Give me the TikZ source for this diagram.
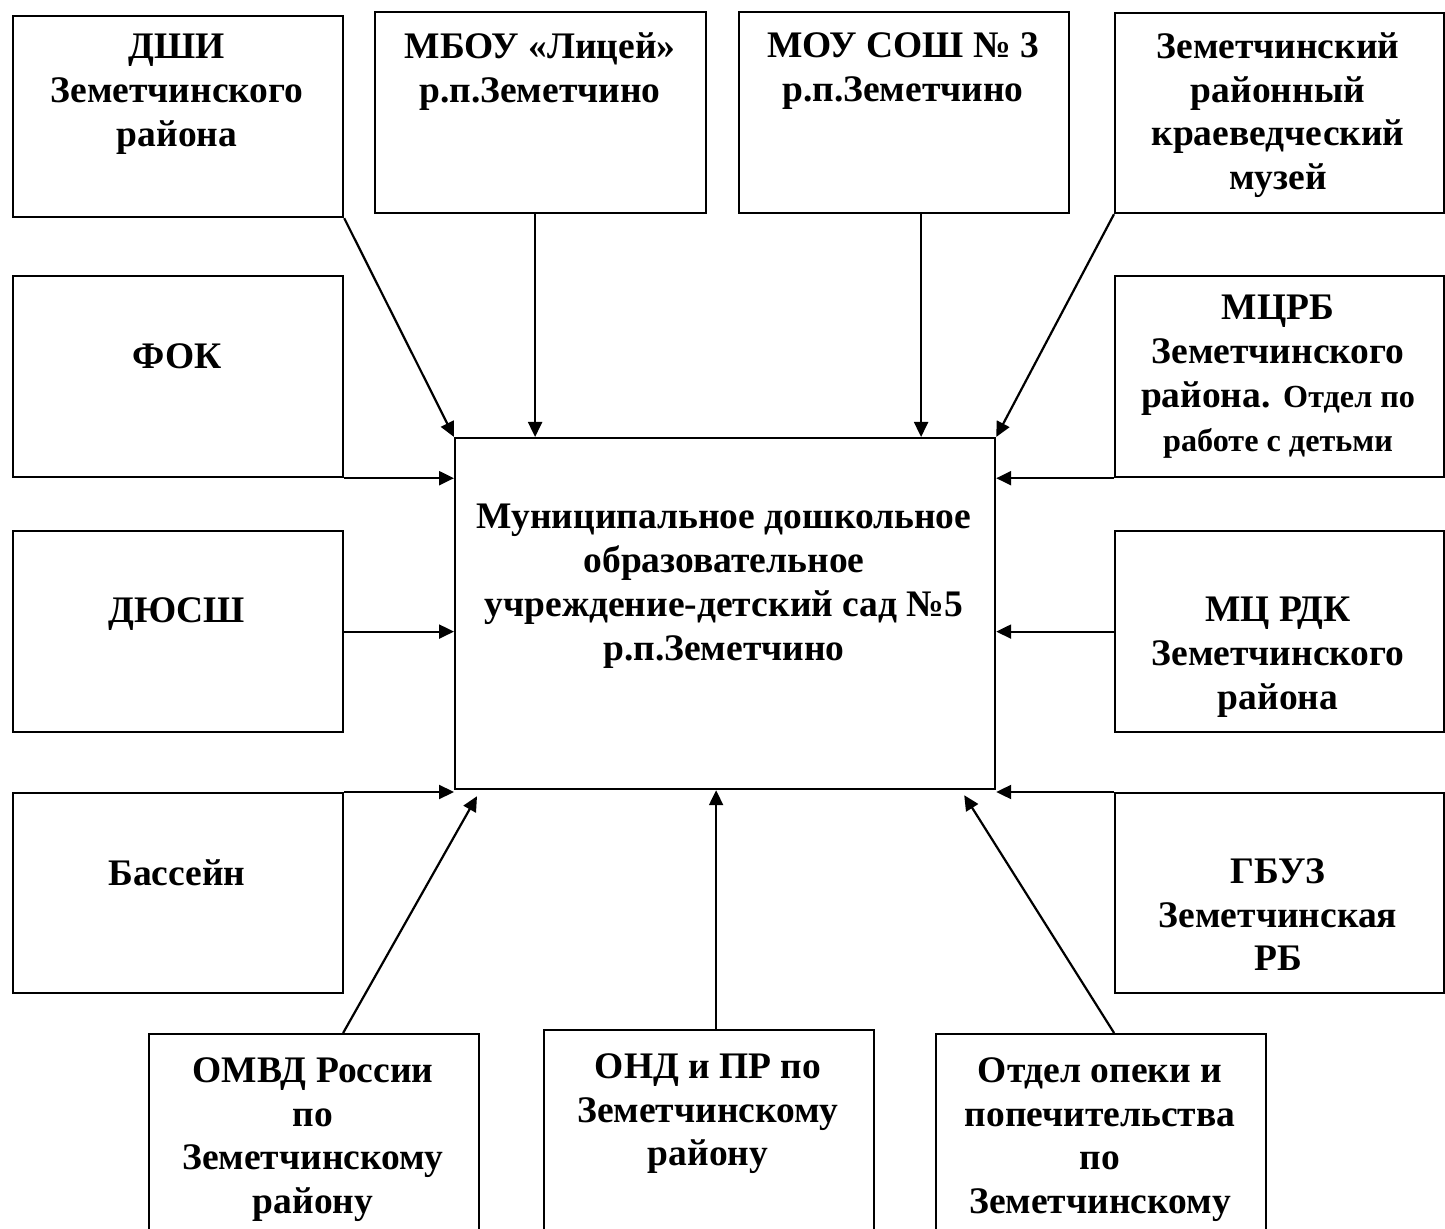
\documentclass[tikz,border=0pt]{standalone}
\usepackage{fontspec}
\setmainfont{Liberation Serif}
\usetikzlibrary{arrows.meta}
\newcommand{\mainsize}{\fontsize{18.75}{21.9}\selectfont}
\newcommand{\smallsz}{\fontsize{16.1}{21.9}\selectfont}
\tikzset{
  box/.style={draw, line width=1.1pt, rectangle, anchor=north west, inner sep=0pt},
  txt/.style={anchor=north, align=center, inner sep=0pt, font=\mainsize\bfseries},
  arr/.style={line width=1.1pt, -{Triangle[length=7.5pt,width=7pt]}}
}
\begin{document}
\begin{tikzpicture}[x=0.5pt,y=-0.5pt]
\useasboundingbox (0,0) rectangle (1445,1229);
\clip (0,0) rectangle (1445,1229);
\fill[white] (0,0) rectangle (1445,1229);
% boxes
\node[box, minimum width=165pt, minimum height=100.5pt] (dshi) at (12,15) {};
\node[box, minimum width=165.5pt, minimum height=100.5pt] (mbou) at (374,11) {};
\node[box, minimum width=165pt, minimum height=100.5pt] (mou) at (738,11) {};
\node[box, minimum width=164.5pt, minimum height=100pt] (muz) at (1114,12) {};
\node[box, minimum width=165pt, minimum height=100.5pt] (fok) at (12,275) {};
\node[box, minimum width=164.5pt, minimum height=100.5pt] (mcrb) at (1114,275) {};
\node[box, minimum width=165pt, minimum height=100.5pt] (dyu) at (12,530) {};
\node[box, minimum width=164.5pt, minimum height=100.5pt] (rdk) at (1114,530) {};
\node[box, minimum width=165pt, minimum height=100pt] (bass) at (12,792) {};
\node[box, minimum width=164.5pt, minimum height=100pt] (gbuz) at (1114,792) {};
\node[box, minimum width=165pt, minimum height=130pt] (omvd) at (148,1033) {};
\node[box, minimum width=165pt, minimum height=130pt] (ond) at (543,1029) {};
\node[box, minimum width=165pt, minimum height=130pt] (opeka) at (935,1033) {};
\node[box, minimum width=270pt, minimum height=175.5pt] (c) at (454,437) {};
% texts
\node[txt] (t-dshi) at (177,34) {ДШИ\\Земетчинского\\района};
\node[txt] (t-mbou) at (540,32) {МБОУ «Лицей»\\р.п.Земетчино};
\node[txt] (t-mou) at (903,32) {МОУ СОШ № 3\\р.п.Земетчино};
\node[txt] (t-muz) at (1278,32) {Земетчинский\\районный\\краеведческий\\музей};
\node[txt] (t-fok) at (177,343) {ФОК};
\node[txt] (t-mcrb) at (1278,295) {МЦРБ\\Земетчинского\\района. {\smallsz Отдел по}\\{\smallsz работе с детьми}};
\node[txt] (t-dyu) at (177,597) {ДЮСШ};
\node[txt] (t-rdk) at (1278,597) {МЦ РДК\\Земетчинского\\района};
\node[txt] (t-c) at (724,504) {Муниципальное дошкольное\\образовательное\\учреждение-детский сад №5\\р.п.Земетчино};
\node[txt] (t-bass) at (177,859) {Бассейн};
\node[txt] (t-gbuz) at (1278,858) {ГБУЗ\\Земетчинская\\РБ};
\node[txt] (t-omvd) at (313,1057) {ОМВД России\\по\\Земетчинскому\\району};
\node[txt] (t-ond) at (708,1053) {ОНД и ПР по\\Земетчинскому\\району};
\node[txt] (t-opeka) at (1100,1057) {Отдел опеки и\\попечительства\\по\\Земетчинскому};
% connectors
\draw[arr] (dshi.south east) -- (c.north west);
\draw[arr] ([xshift=-2.75pt]mbou.south) -- ([xshift=-2.75pt]mbou.south |- c.north);
\draw[arr] ([xshift=8.5pt]mou.south) -- ([xshift=8.5pt]mou.south |- c.north);
\draw[arr] (muz.south west) -- (c.north east);
\draw[arr] (fok.south east) -- (fok.south east -| c.west);
\draw[arr] (mcrb.south west) -- (mcrb.south west -| c.east);
\draw[arr] (dyu.east) -- (dyu.east -| c.west);
\draw[arr] (rdk.west) -- (rdk.west -| c.east);
\draw[arr] (bass.north east) -- (bass.north east -| c.west);
\draw[arr] (gbuz.north west) -- (gbuz.north west -| c.east);
\draw[arr] ([xshift=14.5pt]omvd.north) -- ([xshift=11.5pt,yshift=-3pt]c.south west);
\draw[arr] ([xshift=3.5pt]ond.north) -- ([xshift=3.5pt]ond.north |- c.south);
\draw[arr] ([xshift=6.5pt]opeka.north) -- ([xshift=-16pt,yshift=-2.5pt]c.south east);
\end{tikzpicture}
\end{document}
